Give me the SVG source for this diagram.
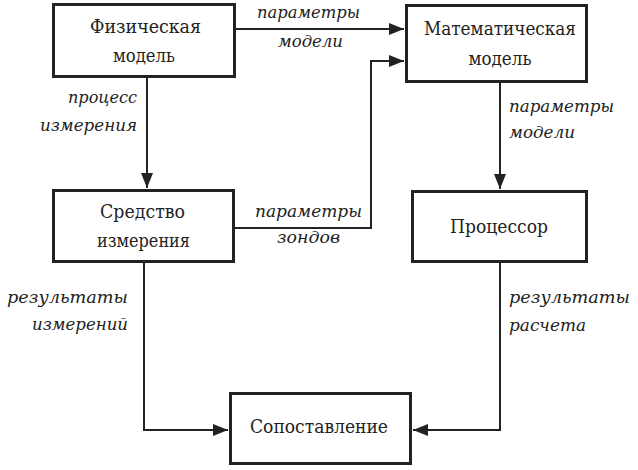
<svg xmlns="http://www.w3.org/2000/svg" width="638" height="470" viewBox="0 0 638 470">
<style>
.box{fill:#fff;stroke:#222;stroke-width:3}
.t{font-family:'DejaVu Serif','Liberation Serif',serif;font-size:19px;fill:#222;text-anchor:middle}
.l{font-family:'DejaVu Serif','Liberation Serif',serif;font-size:16px;font-style:italic;fill:#222}
.c{fill:none;stroke:#222;stroke-width:2}
</style>
<defs>
<marker id="ah" markerUnits="userSpaceOnUse" markerWidth="16" markerHeight="12" refX="15" refY="6" orient="auto">
<path d="M0,0 L15,6 L0,12 z" fill="#222"/>
</marker>
</defs>
<rect width="638" height="470" fill="#fff"/>
<g id="connectors">
<path class="c" d="M236,29 H404" marker-end="url(#ah)"/>
<path class="c" d="M147,78 V188" marker-end="url(#ah)"/>
<path class="c" d="M235,228 H371 V61 H404" marker-end="url(#ah)"/>
<path class="c" d="M500,83 V189" marker-end="url(#ah)"/>
<path class="c" d="M144,263 V430 H228" marker-end="url(#ah)"/>
<path class="c" d="M500,263 V430 H413" marker-end="url(#ah)"/>
</g>
<g id="labels">
<text class="l" x="257" y="18" textLength="103" lengthAdjust="spacingAndGlyphs">параметры</text>
<text class="l" x="278" y="47" textLength="65" lengthAdjust="spacingAndGlyphs">модели</text>
<text class="l" x="255" y="217" textLength="107" lengthAdjust="spacingAndGlyphs">параметры</text>
<text class="l" x="277" y="243" textLength="63" lengthAdjust="spacingAndGlyphs">зондов</text>
<text class="l" x="68" y="103" textLength="69" lengthAdjust="spacingAndGlyphs">процесс</text>
<text class="l" x="40" y="131" textLength="97" lengthAdjust="spacingAndGlyphs">измерения</text>
<text class="l" x="509" y="112" textLength="105" lengthAdjust="spacingAndGlyphs">параметры</text>
<text class="l" x="509" y="138" textLength="66" lengthAdjust="spacingAndGlyphs">модели</text>
<text class="l" x="7" y="303" textLength="121" lengthAdjust="spacingAndGlyphs">результаты</text>
<text class="l" x="32" y="330" textLength="96" lengthAdjust="spacingAndGlyphs">измерений</text>
<text class="l" x="509" y="303" textLength="121" lengthAdjust="spacingAndGlyphs">результаты</text>
<text class="l" x="509" y="331" textLength="77" lengthAdjust="spacingAndGlyphs">расчета</text>
</g>
<g id="node-phys">
<rect class="box" x="53.5" y="4.5" width="181" height="72"/>
<text class="t" x="145.5" y="33" textLength="111" lengthAdjust="spacingAndGlyphs">Физическая</text>
<text class="t" x="144" y="62" textLength="62" lengthAdjust="spacingAndGlyphs">модель</text>
</g>
<g id="node-math">
<rect class="box" x="406.5" y="5.5" width="180" height="76"/>
<text class="t" x="500" y="35" textLength="152" lengthAdjust="spacingAndGlyphs">Математическая</text>
<text class="t" x="500" y="65" textLength="63" lengthAdjust="spacingAndGlyphs">модель</text>
</g>
<g id="node-meas">
<rect class="box" x="53.5" y="190.5" width="180" height="71"/>
<text class="t" x="142.5" y="218" textLength="85" lengthAdjust="spacingAndGlyphs">Средство</text>
<text class="t" x="143.5" y="247" textLength="93" lengthAdjust="spacingAndGlyphs">измерения</text>
</g>
<g id="node-proc">
<rect class="box" x="412.5" y="191.5" width="174" height="70"/>
<text class="t" x="499" y="233" textLength="98" lengthAdjust="spacingAndGlyphs">Процессор</text>
</g>
<g id="node-cmp">
<rect class="box" x="230.5" y="393.5" width="180" height="70"/>
<text class="t" x="319" y="433" textLength="138" lengthAdjust="spacingAndGlyphs">Сопоставление</text>
</g>
</svg>
